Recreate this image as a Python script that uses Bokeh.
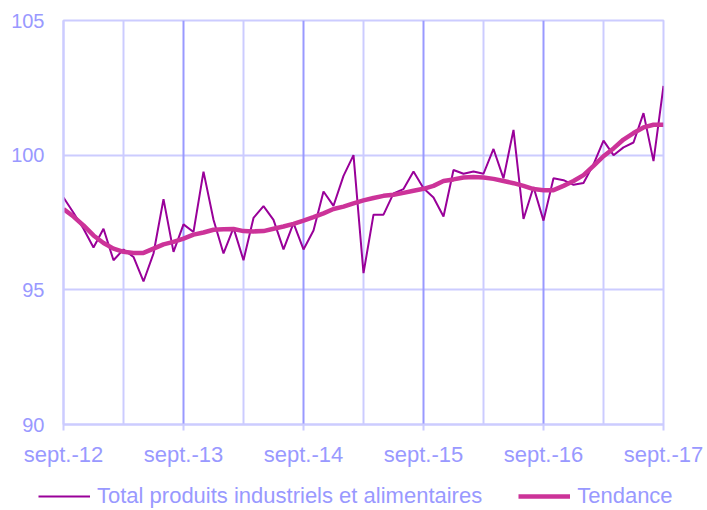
from bokeh.plotting import figure
from bokeh.layouts import column, row
from bokeh.models import (Range1d, FixedTicker, Grid, Legend, LegendItem, ColumnDataSource)
from bokeh.embed import file_html
from bokeh.resources import INLINE

# Monthly index: 0 = sept.-12 ... 60 = sept.-17
months = list(range(61))
total = [98.43, 97.86, 97.27, 96.57, 97.27, 96.10, 96.50, 96.22, 95.31, 96.35,
         98.37, 96.41, 97.43, 97.15, 99.39, 97.60, 96.35, 97.30, 96.10, 97.67,
         98.11, 97.60, 96.50, 97.48, 96.50, 97.20, 98.65, 98.12, 99.23, 100.00,
         95.62, 97.79, 97.79, 98.58, 98.74, 99.39, 98.77, 98.43, 97.72, 99.45,
         99.31, 99.39, 99.31, 100.23, 99.14, 100.94, 97.63, 98.82, 97.57, 99.14,
         99.07, 98.90, 98.97, 99.66, 100.54, 100.00, 100.29, 100.47, 101.56, 99.78,
         102.57]
tendance = [98.00, 97.72, 97.39, 97.02, 96.74, 96.53, 96.41, 96.37, 96.37, 96.53,
            96.69, 96.78, 96.90, 97.05, 97.13, 97.23, 97.25, 97.26, 97.18, 97.17,
            97.18, 97.27, 97.35, 97.45, 97.57, 97.70, 97.84, 98.00, 98.09, 98.21,
            98.32, 98.41, 98.49, 98.53, 98.60, 98.68, 98.75, 98.86, 99.04, 99.10,
            99.17, 99.19, 99.17, 99.12, 99.04, 98.96, 98.86, 98.74, 98.70, 98.70,
            98.86, 99.04, 99.26, 99.60, 99.96, 100.25, 100.58, 100.82, 101.03, 101.13,
            101.13]
tick_positions = [0, 12, 24, 36, 48, 60]
tick_labels = ["sept.-12", "sept.-13", "sept.-14", "sept.-15", "sept.-16", "sept.-17"]
y_ticks = [90, 95, 100, 105]
series_names = ["Total produits industriels et alimentaires", "Tendance"]

LIGHT = "#ccccff"
DARK = "#9999ff"
TXT = "#9999ff"
FONT = "Liberation Sans"
C_TOTAL = "#990099"
C_TREND = "#cc3399"

src = ColumnDataSource(dict(x=months, total=total, tendance=tendance))

p = figure(width=705, height=470, output_backend="svg", toolbar_location=None,
           x_range=Range1d(0, 60), y_range=Range1d(90, 105),
           min_border_left=63, min_border_right=42, min_border_top=20,
           min_border_bottom=46)
p.outline_line_color = LIGHT
p.outline_line_width = 2

# Grids
p.xgrid.visible = False
p.ygrid.ticker = FixedTicker(ticks=[95, 100, 105])
p.ygrid.grid_line_color = LIGHT
p.ygrid.grid_line_width = 2
g_half = Grid(dimension=0, ticker=FixedTicker(ticks=[6, 18, 30, 42, 54]),
              grid_line_color=LIGHT, grid_line_width=2)
g_year = Grid(dimension=0, ticker=FixedTicker(ticks=[12, 24, 36, 48]),
              grid_line_color=DARK, grid_line_width=2)
p.add_layout(g_half)
p.add_layout(g_year)

# Axes
xa = p.xaxis[0]
xa.ticker = FixedTicker(ticks=tick_positions)
xa.major_label_overrides = {t: l for t, l in zip(tick_positions, tick_labels)}
xa.axis_line_color = LIGHT
xa.axis_line_width = 2
xa.major_tick_line_color = LIGHT
xa.major_tick_line_width = 2
xa.major_tick_out = 6
xa.major_tick_in = 0
xa.minor_tick_line_color = None
xa.major_label_standoff = 11
xa.major_label_text_color = TXT
xa.major_label_text_font = FONT
xa.major_label_text_font_size = "22px"

ya = p.yaxis[0]
ya.ticker = FixedTicker(ticks=y_ticks)
ya.axis_line_color = LIGHT
ya.axis_line_width = 2
ya.major_tick_line_color = None
ya.major_tick_out = 0
ya.major_tick_in = 0
ya.minor_tick_line_color = None
ya.major_label_standoff = 19
ya.major_label_text_color = TXT
ya.major_label_text_font = FONT
ya.major_label_text_font_size = "20px"

p.line("x", "total", source=src, line_color=C_TOTAL, line_width=2)
p.line("x", "tendance", source=src, line_color=C_TREND, line_width=4.5)

# Legend strip below the chart (its lines use the same data, kept out of view)
lg = figure(width=705, height=40, output_backend="svg", toolbar_location=None,
            x_axis_type=None, y_axis_type=None,
            x_range=Range1d(0, 1), y_range=Range1d(0, 1),
            min_border_left=0, min_border_right=0, min_border_top=0,
            min_border_bottom=0)
lg.outline_line_color = None
lg.xgrid.visible = False
lg.ygrid.visible = False
k1 = lg.line("x", "total", source=src, line_color=C_TOTAL, line_width=2)
k2 = lg.line("x", "tendance", source=src, line_color=C_TREND, line_width=4.5)
legend = Legend(items=[LegendItem(label=series_names[0], renderers=[k1]),
                       LegendItem(label=series_names[1], renderers=[k2])],
                orientation="horizontal", location=(38, 1),
                padding=0, margin=0, spacing=36,
                glyph_width=52, glyph_height=20, label_standoff=7,
                label_text_font=FONT, label_text_font_size="22px",
                label_text_color=TXT, border_line_alpha=0,
                background_fill_alpha=0)
lg.add_layout(legend, "center")

layout = column(p, row(lg, spacing=0), spacing=0)
open("out.html", "w").write(file_html(layout, INLINE))
